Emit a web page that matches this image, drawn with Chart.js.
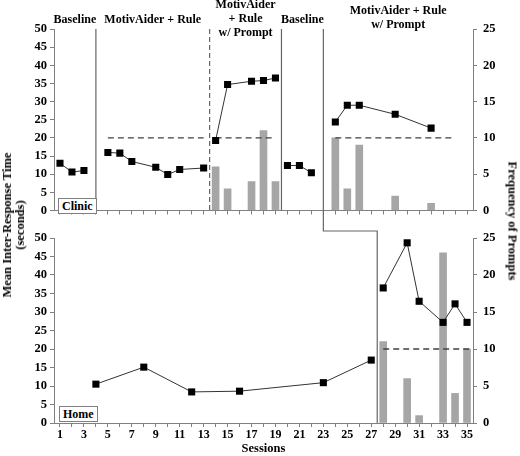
<!DOCTYPE html>
<html><head><meta charset="utf-8">
<script src="https://cdn.jsdelivr.net/npm/chart.js@4.4.1/dist/chart.umd.min.js"></script>
<style>
html,body{margin:0;padding:0;background:#fff;}
#wrap{position:relative;width:520px;height:456px;overflow:hidden;font-family:'Liberation Serif',serif;font-weight:bold;color:#000;}
#c1{position:absolute;left:0;top:0;width:520px;height:224px;}
#c2{position:absolute;left:0;top:224px;width:520px;height:232px;}
.box{position:absolute;border:1px solid #808080;font-size:12px;line-height:12px;padding:1px 3px;background:#fff;}
.vt{position:absolute;white-space:nowrap;font-size:12.5px;text-align:center;line-height:13px;}
#lt{left:14px;top:225px;transform:translate(-50%,-50%) rotate(-90deg);}
#rt{left:512px;top:221px;transform:translate(-50%,-50%) rotate(90deg);}
</style></head>
<body><div id="wrap">
<canvas id="c1" width="520" height="224"></canvas>
<canvas id="c2" width="520" height="232"></canvas>
<div class="box" style="left:58px;top:198px">Clinic</div>
<div class="box" style="left:59px;top:406px">Home</div>
<div class="vt" id="lt">Mean Inter-Response Time<br>(seconds)</div>
<div class="vt" id="rt">Frequency of Prompts</div>
</div>
<script>
// ---------- DATA ----------
const sessionTicks = [1,2,3,4,5,6,7,8,9,10,11,12,13,14,15,16,17,18,19,20,21,22,23,24,25,26,27,28,29,30,31,32,33,34,35];
const xTickLabels = ['1','3','5','7','9','11','13','15','17','19','21','23','25','27','29','31','33','35'];

const clinicSessions = [1,2,3, 5,6,7,9,10,11,13, 14,15,17,18,19, 20,21,22, 24,25,26,29,32];
const clinicIRT      = [13.0,10.6,11.0, 16.0,15.8,13.5,11.9,9.9,11.3,11.7, 19.3,34.7,35.6,35.8,36.5, 12.4,12.4,10.4, 24.4,29.0,29.0,26.5,22.7];
const clinicPhase    = [1,1,1, 2,2,2,2,2,2,2, 3,3,3,3,3, 4,4,4, 5,5,5,5,5];
const clinicPromptSessions = [14,15,17,18,19,24,25,26,29,32];
const clinicPrompts        = [6,3,4,11,4,10,3,9,2,1];

const homeSessions = [4,8,12,16,23,27, 28,30,31,33,34,35];
const homeIRT      = [10.5,15.1,8.4,8.6,10.9,17.0, 36.5,48.7,32.9,27.2,32.2,27.2];
const homePhase    = [1,1,1,1,1,1, 2,2,2,2,2,2];
const homePromptSessions = [28,30,31,33,34,35];
const homePrompts        = [11,6,1,23,4,10];

const criterionValue = 20;
const clinicCriterionStart = [5,14,24];
const clinicCriterionEnd   = [13,19,34];
const homeCriterionStart = [28];
const homeCriterionEnd   = [35.4];

const clinicPhaseChanges = [4,13.5,19.5];
const clinicPhaseDashed  = [false,true,false];
const stepFrom = 23, stepTo = 27.5;
const phaseBounds = [0.5,4,13.5,19.5,23,35.5];
const phaseNames = [['Baseline'],['MotivAider + Rule'],['MotivAider','+ Rule','w/ Prompt'],['Baseline'],['MotivAider + Rule','w/ Prompt']];
const phaseNameY = [[20],[20],[5,18.5,32.5],[20],[11,25]];

const irtTicks = {min:0,max:50,step:5};
const promptTicks = {min:0,max:25,step:5};

// ---------- CHART ----------
Chart.defaults.font.family = "'Liberation Serif', serif";
Chart.defaults.font.weight = 'bold';
Chart.defaults.color = '#000';
const AX = '#808080';

function lineSets(sessions, values, phases){
  const groups = {};
  sessions.forEach((s,i)=>{ (groups[phases[i]] = groups[phases[i]] || []).push({x:s,y:values[i]}); });
  return Object.keys(groups).map(k=>({type:'line',data:groups[k],yAxisID:'y',borderColor:'#333',borderWidth:1,
    pointStyle:'rect',pointRadius:5,pointBackgroundColor:'#000',pointBorderColor:'#000',pointBorderWidth:0,
    fill:false,tension:0,order:1}));
}
function critSets(starts, ends){
  return starts.map((a,i)=>({type:'line',data:[{x:a,y:criterionValue},{x:ends[i],y:criterionValue}],yAxisID:'y',
    borderColor:'#404040',borderWidth:1.3,borderDash:[6,4],pointRadius:0,fill:false,order:5}));
}
function barSet(sessions, vals){
  return {type:'bar',data:sessions.map((s,i)=>({x:s,y:vals[i]})),yAxisID:'y1',backgroundColor:'#a6a6a6',
    barThickness:7,order:10};
}
function scales(showLabels, xHeight){
  return {
    x:{type:'linear',min:0.5,max:35.5,offset:false,
      afterBuildTicks:s=>{s.ticks=sessionTicks.map(v=>({value:v}));},
      ticks:{display:showLabels,autoSkip:false,maxRotation:0,padding:1,font:{size:12,weight:'bold'},
        callback:v=>xTickLabels.includes(String(v))?String(v):''},
      grid:{drawOnChartArea:false,drawTicks:true,tickLength:4,color:AX,offset:false},
      border:{color:AX,width:1},
      title:{display:showLabels,text:'Sessions',font:{size:12.5,weight:'bold'},padding:{top:0,bottom:0}},
      afterFit:s=>{s.height=xHeight;}},
    y:{type:'linear',position:'left',min:irtTicks.min,max:irtTicks.max,
      ticks:{stepSize:irtTicks.step,padding:3,font:{size:12.5,weight:'bold'}},
      grid:{drawOnChartArea:false,tickLength:4,color:AX},border:{color:AX,width:1},
      afterFit:s=>{s.width=54;}},
    y1:{type:'linear',position:'right',min:promptTicks.min,max:promptTicks.max,
      ticks:{stepSize:promptTicks.step,padding:6,font:{size:12.5,weight:'bold'}},
      grid:{drawOnChartArea:false,tickLength:4,color:AX},border:{color:AX,width:1},
      afterFit:s=>{s.width=47;}}
  };
}

const clinicPlugin = {
  id:'clinicPhases',
  afterDatasetsDraw(chart){
    const {ctx, chartArea:a, scales:{x}} = chart;
    ctx.save();
    ctx.strokeStyle='#666'; ctx.lineWidth=1.2;
    clinicPhaseChanges.forEach((v,i)=>{
      const px = x.getPixelForValue(v);
      ctx.setLineDash(clinicPhaseDashed[i]?[5,3]:[]);
      ctx.beginPath(); ctx.moveTo(px,a.top); ctx.lineTo(px,a.bottom); ctx.stroke();
    });
    ctx.setLineDash([]);
    const ps = x.getPixelForValue(stepFrom);
    ctx.beginPath(); ctx.moveTo(ps,a.top); ctx.lineTo(ps,chart.height); ctx.stroke();
    ctx.fillStyle='#000'; ctx.font="bold 12px 'Liberation Serif'"; ctx.textAlign='center'; ctx.textBaseline='middle';
    phaseNames.forEach((lines,i)=>{
      const cx = x.getPixelForValue((phaseBounds[i]+phaseBounds[i+1])/2);
      lines.forEach((t,j)=>ctx.fillText(t,cx,phaseNameY[i][j]));
    });
    ctx.restore();
  }
};
const homePlugin = {
  id:'homePhases',
  afterDatasetsDraw(chart){
    const {ctx, chartArea:a, scales:{x}} = chart;
    ctx.save();
    ctx.strokeStyle='#666'; ctx.lineWidth=1.2;
    const p1 = x.getPixelForValue(stepFrom), p2 = x.getPixelForValue(stepTo), sy = 7;
    ctx.beginPath(); ctx.moveTo(p1,0); ctx.lineTo(p1,sy); ctx.lineTo(p2,sy); ctx.lineTo(p2,a.bottom); ctx.stroke();
    ctx.restore();
  }
};

const common = {responsive:false,animation:false,devicePixelRatio:1,
  plugins:{legend:{display:false},tooltip:{enabled:false}}};

new Chart(document.getElementById('c1'),{
  type:'line',
  data:{datasets:[...lineSets(clinicSessions,clinicIRT,clinicPhase),...critSets(clinicCriterionStart,clinicCriterionEnd),barSet(clinicPromptSessions,clinicPrompts)]},
  options:Object.assign({},common,{layout:{padding:{top:29,left:0,right:0,bottom:0}},scales:scales(false,10)}),
  plugins:[clinicPlugin]
});
new Chart(document.getElementById('c2'),{
  type:'line',
  data:{datasets:[...lineSets(homeSessions,homeIRT,homePhase),...critSets(homeCriterionStart,homeCriterionEnd),barSet(homePromptSessions,homePrompts)]},
  options:Object.assign({},common,{layout:{padding:{top:14,left:0,right:0,bottom:0}},scales:scales(true,33)}),
  plugins:[homePlugin]
});
</script>
</body></html>
